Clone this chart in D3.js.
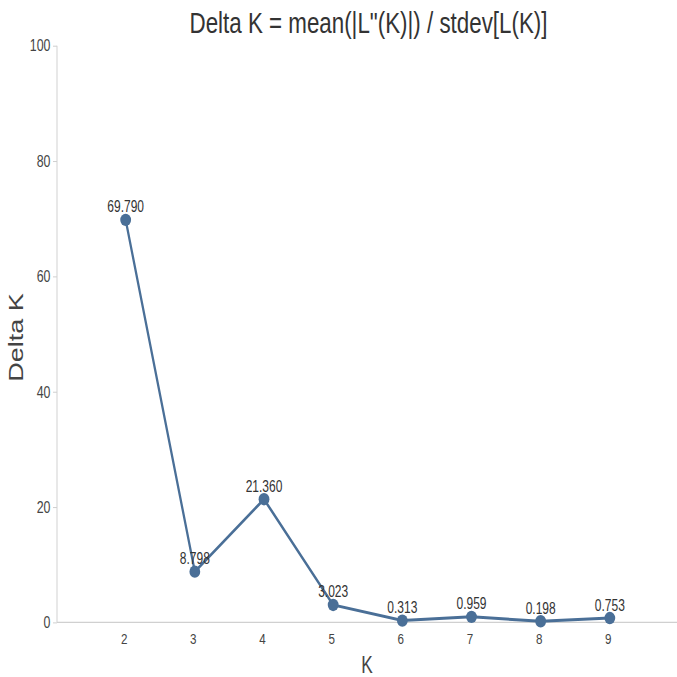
<!DOCTYPE html>
<html>
<head>
<meta charset="utf-8">
<script src="https://cdn.jsdelivr.net/npm/d3@7"></script>
<style>
  html, body { margin: 0; padding: 0; background: #fff; }
  svg { display: block; font-family: "Liberation Sans", Arial, sans-serif; }
  .axis-line { stroke: #d0d0d0; stroke-width: 1.3; }
</style>
</head>
<body>
<svg width="677" height="677"></svg>
<script>
// Delta K for each K (Evanno method)
const kValues = [2, 3, 4, 5, 6, 7, 8, 9];
const deltaK = [69.790, 8.798, 21.360, 3.023, 0.313, 0.959, 0.198, 0.753];
const yTicks = [0, 20, 40, 60, 80, 100];

const svg = d3.select("svg");
const squeeze = 0.75; // the whole chart is drawn horizontally condensed

// Everything lives in a group that is squeezed horizontally
const g = svg.append("g").attr("transform", `scale(${squeeze},1)`);
const px = v => v / squeeze; // page x -> inner x

const x = d3.scaleLinear().domain([1, 10]).range([px(56.5), px(679)]);
const y = d3.scaleLinear().domain([0, 100]).range([622.4, 45.7]);

// Y axis
const yAxis = g.append("g").attr("transform", `translate(${px(57)},0)`)
  .call(d3.axisLeft(y).tickValues(yTicks).tickSize(px(4)).tickPadding(px(2.5)));
yAxis.attr("font-size", null).attr("font-family", null);
yAxis.select(".domain").remove();
yAxis.selectAll(".tick line").attr("stroke", "#c8c8c8");
yAxis.selectAll(".tick text")
  .attr("fill", "#444")
  .style("font-size", "16.5px");
g.append("line").attr("class", "axis-line")
  .attr("x1", px(57)).attr("x2", px(57))
  .attr("y1", y(100)).attr("y2", y(0));

// X axis (line only, labels underneath)
g.append("line").attr("class", "axis-line")
  .attr("x1", px(57)).attr("x2", px(677))
  .attr("y1", y(0)).attr("y2", y(0));
g.selectAll(".xlabel")
  .data(kValues)
  .enter()
  .append("text")
  .attr("class", "xlabel")
  .attr("x", d => x(d) - px(1.5))
  .attr("y", 644)
  .attr("text-anchor", "middle")
  .attr("fill", "#444")
  .style("font-size", "15.5px")
  .text(d => d);

// Line
const points = kValues.map((k, i) => [k, deltaK[i]]);
g.append("path")
  .datum(points)
  .attr("fill", "none")
  .attr("stroke", "#4a6f97")
  .attr("stroke-width", 3)
  .attr("d", d3.line().x(d => x(d[0])).y(d => y(d[1])));

// Dots
g.selectAll(".dot")
  .data(points)
  .enter()
  .append("ellipse")
  .attr("class", "dot")
  .attr("cx", d => x(d[0]))
  .attr("cy", d => y(d[1]))
  .attr("rx", 7.2)
  .attr("ry", 6.2)
  .attr("fill", "#4a6f97");

// Value labels
g.selectAll(".value")
  .data(points)
  .enter()
  .append("text")
  .attr("class", "value")
  .attr("x", d => x(d[0]))
  .attr("y", d => y(d[1]) - 7.5)
  .attr("text-anchor", "middle")
  .attr("fill", "#333")
  .style("font-size", "16px")
  .text(d => d[1].toFixed(3));

// Title
g.append("text")
  .attr("x", px(368.5))
  .attr("y", 33)
  .attr("text-anchor", "middle")
  .attr("fill", "#333")
  .style("font-size", "29.8px")
  .text("Delta K = mean(|L\"(K)|) / stdev[L(K)]");

// Axis titles
g.append("text")
  .attr("x", px(367))
  .attr("y", 673)
  .attr("text-anchor", "middle")
  .attr("fill", "#444")
  .style("font-size", "23px")
  .text("K");

g.append("text")
  .attr("transform", `translate(${px(23)},337.5) rotate(-90)`)
  .attr("text-anchor", "middle")
  .attr("fill", "#444")
  .style("font-size", "27px")
  .text("Delta K");
</script>
</body>
</html>
